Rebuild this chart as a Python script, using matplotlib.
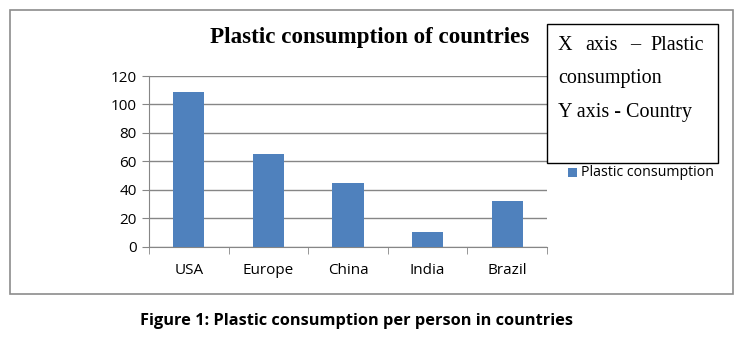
import numpy as np
import matplotlib.pyplot as plt
from matplotlib.patches import Rectangle

countries = ['USA', 'Europe', 'China', 'India', 'Brazil']
consumption = [109, 65, 45, 10, 32]
yticks = [0, 20, 40, 60, 80, 100, 120]

W, H = 741, 340
fig = plt.figure(figsize=(W / 100, H / 100), dpi=100)

def fx(px):
    return px / W

def fy(py):
    return 1 - py / H

grey = '#868686'
blue = '#4F81BD'

# outer chart frame
fig.patches.append(Rectangle((fx(10), fy(294)), fx(723), (294 - 10) / H,
                             transform=fig.transFigure, fill=False,
                             edgecolor='#8c8c8c', linewidth=1.2))

ax = fig.add_axes([fx(149), fy(246.7), fx(547 - 149), (246.7 - 76) / H])
x = np.arange(len(countries))
ax.bar(x, consumption, width=0.39, color=blue, zorder=3)
ax.set_xlim(-0.5, len(countries) - 0.5)
ax.set_ylim(0, 120)
ax.set_yticks(yticks)
ax.set_yticklabels([str(v) for v in yticks], fontsize=11, family='Open Sans')
ax.set_xticks(x)
ax.set_xticklabels(countries, fontsize=11, family='Open Sans')
ax.set_xticks(np.arange(len(countries) + 1) - 0.5, minor=True)
ax.tick_params(axis='x', which='major', length=0, pad=12)
ax.tick_params(axis='x', which='minor', length=5, color=grey, direction='out')
ax.tick_params(axis='y', length=5, color=grey, pad=4)
ax.grid(axis='y', color=grey, linewidth=1, zorder=0)
for s in ['top', 'right']:
    ax.spines[s].set_visible(False)
for s in ['left', 'bottom']:
    ax.spines[s].set_color(grey)
ax.set_facecolor('none')

fig.text(fx(370), fy(38), 'Plastic consumption of countries', ha='center', va='center',
         fontsize=16.6, fontweight='bold', family='Liberation Serif')

# note box (justified first line)
fig.patches.append(Rectangle((fx(547), fy(163)), fx(718 - 547), (163 - 24) / H,
                             transform=fig.transFigure, fill=True, facecolor='white',
                             edgecolor='black', linewidth=1, zorder=5))
serif = dict(fontsize=14.5, family='Liberation Serif', va='center', zorder=6)
fig.text(fx(558), fy(45), 'X', ha='left', **serif)
fig.text(fx(585), fy(45), 'axis', ha='left', **serif)
fig.text(fx(635), fy(45), '–', ha='center', **serif)
fig.text(fx(704), fy(45), 'Plastic', ha='right', **serif)
fig.text(fx(558), fy(79), 'consumption', ha='left', **serif)
fig.text(fx(558), fy(113), 'Y axis - Country', ha='left', **serif)

# legend
fig.patches.append(Rectangle((fx(568), fy(177)), fx(9), 9 / H,
                             transform=fig.transFigure, facecolor=blue, edgecolor='none'))
fig.text(fx(581), fy(172), 'Plastic consumption', ha='left', va='center',
         fontsize=10.2, family='Open Sans')

fig.text(fx(357), fy(321), 'Figure 1: Plastic consumption per person in countries',
         ha='center', va='center', fontsize=11.8, fontweight='bold', family='Open Sans')

fig.savefig('out.png', dpi=100)
